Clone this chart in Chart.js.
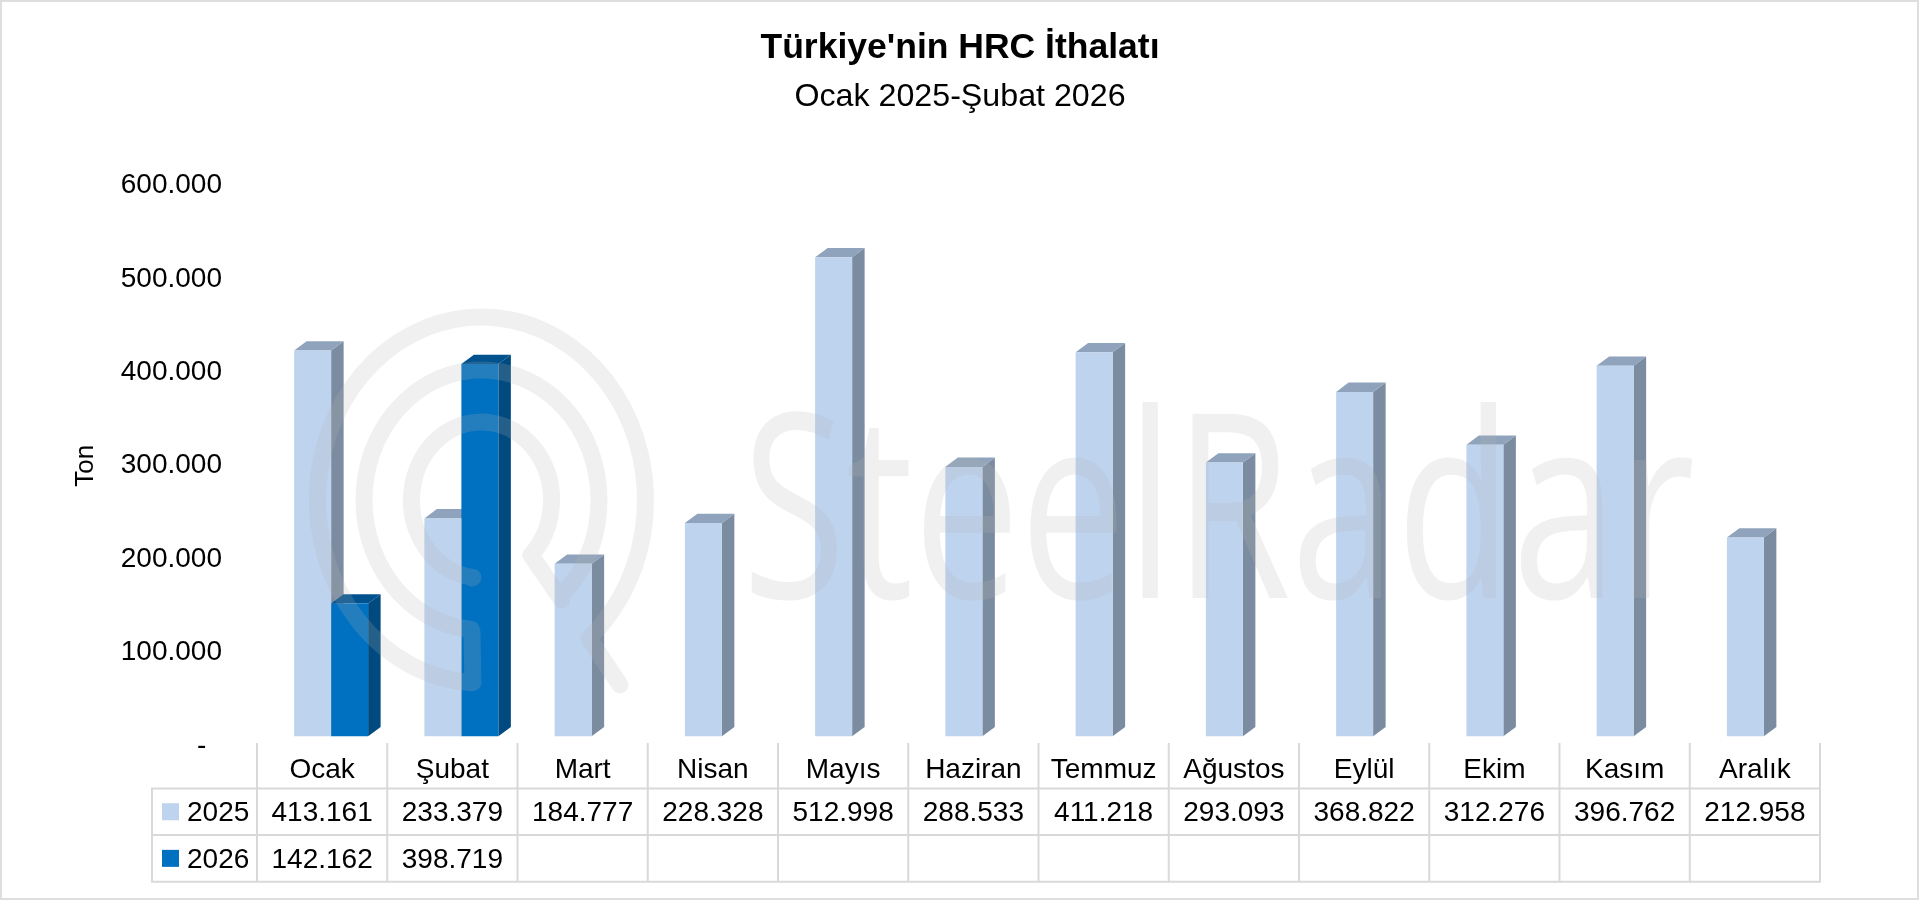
<!DOCTYPE html>
<html lang="tr">
<head>
<meta charset="utf-8">
<title>Türkiye'nin HRC İthalatı</title>
<style>html,body{margin:0;padding:0;background:#fff}canvas{display:block}</style>
<script src="https://cdn.jsdelivr.net/npm/chart.js@4/dist/chart.umd.js"></script>
</head>
<body>
<canvas id="c" width="1920" height="901"></canvas>
<script>
const titleText = "Türkiye'nin HRC İthalatı";
const subtitleText = "Ocak 2025-Şubat 2026";
const axisTitle = "Ton";
const watermarkText = "SteelRadar";
const categories = ["Ocak","Şubat","Mart","Nisan","Mayıs","Haziran","Temmuz","Ağustos","Eylül","Ekim","Kasım","Aralık"];
const values2025 = [413161,233379,184777,228328,512998,288533,411218,293093,368822,312276,396762,212958];
const values2026 = [142162,398719,null,null,null,null,null,null,null,null,null,null];
const yTicks = [0,100000,200000,300000,400000,500000,600000];

const FONT = '"Liberation Sans", Arial, sans-serif';
const BLACK = '#000000';
const GRID = '#D9D9D9';
const faceColors = {
  2025: {front:'#BED3EE', side:'#7C8CA0', top:'#8FA4BC'},
  2026: {front:'#0070C0', side:'#004A80', top:'#00528F'}
};
const fmt = v => v === null ? '' : String(v).replace(/\B(?=(\d{3})+$)/g,'.');

const DX = 9, DY = 9.5, SIDE_X = 12.5, SIDE_Y = 9.3;

const bars3d = {
  id:'bars3d',
  beforeDatasetsDraw(chart){
    const ctx = chart.ctx;
    ctx.save();
    ctx.translate(DX,-DY);
    chart.data.datasets.forEach((ds,di)=>{
      const colors = faceColors[ds.label];
      chart.getDatasetMeta(di).data.forEach((el,i)=>{
        if (ds.data[i] === null) return;
        const l = el.x-el.width/2, r = el.x+el.width/2;
        ctx.fillStyle = colors.side;
        ctx.beginPath();
        ctx.moveTo(r,el.y); ctx.lineTo(r+SIDE_X,el.y-SIDE_Y); ctx.lineTo(r+SIDE_X,el.base-SIDE_Y); ctx.lineTo(r,el.base);
        ctx.closePath(); ctx.fill();
        ctx.fillStyle = colors.top;
        ctx.beginPath();
        ctx.moveTo(l,el.y); ctx.lineTo(l+SIDE_X,el.y-SIDE_Y); ctx.lineTo(r+SIDE_X,el.y-SIDE_Y); ctx.lineTo(r,el.y);
        ctx.closePath(); ctx.fill();
      });
    });
  },
  afterDatasetsDraw(chart){ chart.ctx.restore(); }
};

const frame = {
  id:'frame',
  beforeDraw(chart){
    const ctx = chart.ctx;
    ctx.save();
    ctx.fillStyle='#fff'; ctx.fillRect(0,0,chart.width,chart.height);
    ctx.strokeStyle='#DEDEDE'; ctx.lineWidth=2;
    ctx.strokeRect(1,1,1917,898);
    ctx.restore();
  }
};

const dataTable = {
  id:'dataTable',
  afterDraw(chart){
    const ctx = chart.ctx, x = chart.scales.x;
    const cw = x.width/categories.length;
    const leftEdge = 152, top = 743, rows = [788.5,835,881.7];
    ctx.save();
    ctx.strokeStyle = GRID; ctx.lineWidth = 2;
    ctx.beginPath();
    rows.forEach(y=>{ ctx.moveTo(leftEdge,y); ctx.lineTo(x.right+1,y); });
    for (let k=0;k<=categories.length;k++){ ctx.moveTo(x.left+k*cw,top); ctx.lineTo(x.left+k*cw,rows[2]); }
    ctx.moveTo(leftEdge,rows[0]-1); ctx.lineTo(leftEdge,rows[2]+1);
    ctx.stroke();
    ctx.font = '28px '+FONT; ctx.fillStyle = BLACK; ctx.textBaseline='middle';
    [[2025,values2025],[2026,values2026]].forEach(([name,vals],r)=>{
      const cy = (rows[r]+rows[r+1])/2;
      ctx.fillStyle = faceColors[name].front;
      ctx.fillRect(162,cy-8.5,17,17);
      ctx.fillStyle = BLACK;
      ctx.textAlign='left';
      ctx.fillText(String(name),187,cy+2);
      ctx.textAlign='center';
      vals.forEach((v,i)=>{ if (v!==null) ctx.fillText(fmt(v),x.getPixelForValue(i),cy+2); });
    });
    ctx.restore();
  }
};

const watermark = {
  id:'watermark',
  afterDatasetsDraw(chart){
    const ctx = chart.ctx, cx=481.5, cy=500, d=Math.PI/180;
    const ink='rgba(182,182,182,0.2)';
    ctx.save();
    ctx.strokeStyle=ink; ctx.lineWidth=17; ctx.lineCap='round'; ctx.lineJoin='round';
    ctx.beginPath();
    ctx.moveTo(620,685); ctx.lineTo(590,640);
    ctx.ellipse(cx,cy,164,183,0,49*d,93*d,true);
    ctx.lineTo(472,632);
    ctx.ellipse(cx,cy,117.5,130,0,95*d,(360+45)*d,false);
    ctx.moveTo(471.7,578);
    ctx.ellipse(cx,cy,70,78,0,97*d,(360+45)*d,false);
    ctx.lineTo(561.7,600);
    ctx.stroke();
    ctx.font='258px "Open Sans"';
    const w=ctx.measureText(watermarkText).width;
    ctx.translate(742,598);
    ctx.scale(953/w,1);
    ctx.fillStyle=ink; ctx.textAlign='left'; ctx.textBaseline='alphabetic';
    ctx.fillText(watermarkText,0,0);
    ctx.restore();
  }
};

new Chart(document.getElementById('c'),{
  type:'bar',
  data:{
    labels:categories,
    datasets:[
      {label:'2025',data:values2025,backgroundColor:faceColors[2025].front},
      {label:'2026',data:values2026,backgroundColor:faceColors[2026].front}
    ]
  },
  plugins:[frame,bars3d,watermark,dataTable],
  options:{
    responsive:false,
    devicePixelRatio:1,
    animation:false,
    layout:{padding:{left:100,right:100,top:0,bottom:0}},
    datasets:{bar:{categoryPercentage:0.568,barPercentage:1,borderWidth:0,clip:false}},
    plugins:{
      legend:{display:false},
      tooltip:{enabled:false},
      title:{display:true,text:titleText,color:BLACK,font:{family:FONT,size:35.5,weight:'bold',lineHeight:1.2},padding:{top:26.5,bottom:9.1}},
      subtitle:{display:true,text:subtitleText,color:BLACK,font:{family:FONT,size:32.2,weight:'normal',lineHeight:1.2},padding:{top:0,bottom:68.7}}
    },
    scales:{
      x:{
        grid:{display:false,drawTicks:false},
        border:{display:false},
        ticks:{color:BLACK,font:{family:FONT,size:28},padding:8,autoSkip:false,maxRotation:0},
        afterFit(s){ s.height=155.2; }
      },
      y:{
        min:0,max:600000,
        afterBuildTicks(s){ s.ticks=yTicks.map(v=>({value:v})); },
        grid:{display:false,drawTicks:false},
        border:{display:false},
        ticks:{color:BLACK,font:{family:FONT,size:28},padding:35,callback:v=>v===0?'-  ':fmt(v)},
        title:{display:true,text:axisTitle,color:BLACK,font:{family:FONT,size:26,lineHeight:1.2},padding:{top:-29.6,bottom:0}},
        afterFit(s){ s.width=157; }
      }
    }
  }
});
</script>
</body>
</html>
